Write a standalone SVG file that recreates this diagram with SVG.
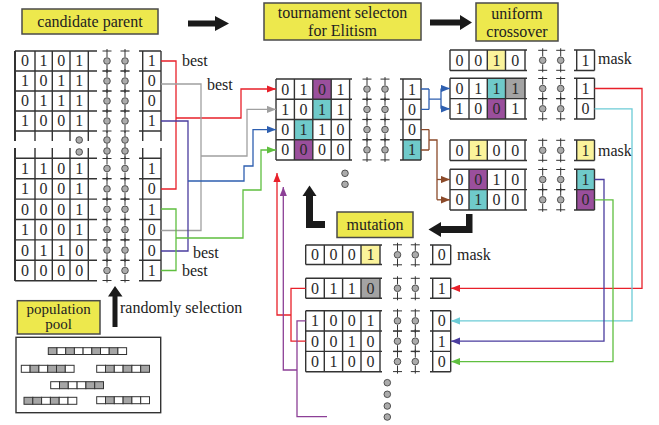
<svg xmlns="http://www.w3.org/2000/svg" xmlns:xlink="http://www.w3.org/1999/xlink" width="659" height="425" viewBox="0 0 659 425" font-family="Liberation Serif, Times New Roman, serif">
<style>
.bg{fill:#fff}
.box{fill:#ede84d;stroke:#4a4a4a;stroke-width:1.5}
.lbl{font-size:16px;fill:#222;text-anchor:middle}
.txt{font-size:16px;fill:#222}
.n{font-size:16px;fill:#2a2a2a;text-anchor:middle}
.grid{fill:none;stroke:#333;stroke-width:1.4}
.ln{fill:none;stroke:#333;stroke-width:1}
.dc{fill:#ababab;stroke:#444;stroke-width:0.9}
.pu{fill:#9a4f9c}.te{fill:#6fcaca}.ye{fill:#fbf39b}.gr{fill:#a3a3a3}
.blk{fill:#1a1a1a}
.c{fill:none;stroke-width:1.3}
.pc{stroke:#333;stroke-width:1}
</style>
<defs>
<g id="dt"><path class="ln" d="M0,-12V-4M0,4V12M-4.5,-10H4.5M-4.5,10H4.5"/><circle class="dc" r="3.3"/></g>
<marker id="mr" viewBox="0 0 10 8" refX="10" refY="4" markerWidth="9" markerHeight="7.5" markerUnits="userSpaceOnUse" orient="auto"><path d="M0,0L10,4L0,8z" fill="#e8202a"/></marker>
<marker id="mg" viewBox="0 0 10 8" refX="10" refY="4" markerWidth="9" markerHeight="7.5" markerUnits="userSpaceOnUse" orient="auto"><path d="M0,0L10,4L0,8z" fill="#a0a0a0"/></marker>
<marker id="mb" viewBox="0 0 10 8" refX="10" refY="4" markerWidth="9" markerHeight="7.5" markerUnits="userSpaceOnUse" orient="auto"><path d="M0,0L10,4L0,8z" fill="#2e5fb0"/></marker>
<marker id="mgr" viewBox="0 0 10 8" refX="10" refY="4" markerWidth="9" markerHeight="7.5" markerUnits="userSpaceOnUse" orient="auto"><path d="M0,0L10,4L0,8z" fill="#5fbf3f"/></marker>
<marker id="mbr" viewBox="0 0 10 8" refX="10" refY="4" markerWidth="9" markerHeight="7.5" markerUnits="userSpaceOnUse" orient="auto"><path d="M0,0L10,4L0,8z" fill="#8b4a2a"/></marker>
<marker id="mc" viewBox="0 0 10 8" refX="10" refY="4" markerWidth="9" markerHeight="7.5" markerUnits="userSpaceOnUse" orient="auto"><path d="M0,0L10,4L0,8z" fill="#6ccbd6"/></marker>
<marker id="mi" viewBox="0 0 10 8" refX="10" refY="4" markerWidth="9" markerHeight="7.5" markerUnits="userSpaceOnUse" orient="auto"><path d="M0,0L10,4L0,8z" fill="#4a3c9e"/></marker>
<marker id="mp" viewBox="0 0 10 8" refX="10" refY="4" markerWidth="9" markerHeight="7.5" markerUnits="userSpaceOnUse" orient="auto"><path d="M0,0L10,4L0,8z" fill="#8c3f96"/></marker>
</defs>
<rect class="bg" x="0" y="0" width="659" height="425"/>

<g id="label-candidate-parent">
<rect class="box" x="22" y="9" width="136" height="25"/>
<text class="lbl" x="90" y="26.5">candidate parent</text>
</g>
<g id="label-tournament">
<rect class="box" x="264" y="3" width="157" height="37"/>
<text class="lbl" x="342.5" y="18">tournament selecton</text>
<text class="lbl" x="342.5" y="35.5">for Elitism</text>
</g>
<g id="label-uniform">
<rect class="box" x="476" y="3" width="82" height="38"/>
<text class="lbl" x="517" y="18.5">uniform</text>
<text class="lbl" x="517" y="36.5">crossover</text>
</g>
<g id="label-mutation">
<rect class="box" x="337" y="212" width="76" height="25.5"/>
<text class="lbl" x="375" y="229.5">mutation</text>
</g>
<g id="label-population-pool">
<rect class="box" x="17.3" y="300.7" width="82.7" height="33.3"/>
<text class="lbl" x="58.7" y="314" style="font-size:15px">population</text>
<text class="lbl" x="58.7" y="329" style="font-size:15px">pool</text>
</g>

<g id="big-arrows">
<path class="blk" d="M188,20.5H215V16L229,23.5L215,31V26.5H188Z"/>
<path class="blk" d="M430,19.5H460V15L472,22.5L460,30V25.5H430Z"/>
<path class="blk" d="M306,195V228H325V221H313V195Z"/>
<path class="blk" d="M302.5,196L309.5,185.5L316.5,196Z"/>
<path class="blk" d="M466,214H472.5V233H440V226H466Z"/>
<path class="blk" d="M441,222L428.5,229.5L441,237Z"/>
<path class="blk" d="M112.5,327V296.5H108L115,286L122.5,296.5H117.5V327Z"/>
</g>

<g id="candidate-table">
<path class="grid" d="M15,51V141M15,148V280.7M35,51V141M35,148V280.7M52.3,51V141M52.3,148V280.7M70,51V141M70,148V280.7M88.3,51V141M88.3,148V280.7M142.7,51V141M142.7,148V280.7M161,51V141M161,148V280.7M15,51H97M139,51H161M15,71H97M139,71H161M15,91H97M139,91H161M15,111H97M139,111H161M15,131H97M139,131H161M15,158.3H97M139,158.3H161M15,178.7H97M139,178.7H161M15,199.1H97M139,199.1H161M15,219.5H97M139,219.5H161M15,239.9H97M139,239.9H161M15,260.3H97M139,260.3H161M15,280.7H97M139,280.7H161"/>
<path class="grid" d="M15,51V141M15,148V280.7" style="stroke-width:2"/>
<use xlink:href="#dt" x="107" y="61"/><use xlink:href="#dt" x="125" y="61"/>
<use xlink:href="#dt" x="107" y="81"/><use xlink:href="#dt" x="125" y="81"/>
<use xlink:href="#dt" x="107" y="101"/><use xlink:href="#dt" x="125" y="101"/>
<use xlink:href="#dt" x="107" y="121"/><use xlink:href="#dt" x="125" y="121"/>
<use xlink:href="#dt" x="107" y="168.5"/><use xlink:href="#dt" x="125" y="168.5"/>
<use xlink:href="#dt" x="107" y="188.9"/><use xlink:href="#dt" x="125" y="188.9"/>
<use xlink:href="#dt" x="107" y="209.3"/><use xlink:href="#dt" x="125" y="209.3"/>
<use xlink:href="#dt" x="107" y="229.7"/><use xlink:href="#dt" x="125" y="229.7"/>
<use xlink:href="#dt" x="107" y="250.1"/><use xlink:href="#dt" x="125" y="250.1"/>
<use xlink:href="#dt" x="107" y="270.5"/><use xlink:href="#dt" x="125" y="270.5"/>
<path class="ln" d="M107,131V136.5M107,143.5V147.5M107,154.5V158M125,131V136.5M125,143.5V147.5M125,154.5V158"/>
<circle class="dc" cx="107" cy="140" r="3.3"/><circle class="dc" cx="107" cy="151" r="3.3"/>
<circle class="dc" cx="125" cy="140" r="3.3"/><circle class="dc" cx="125" cy="151" r="3.3"/>
<circle class="dc" cx="79.2" cy="140" r="3.3"/><circle class="dc" cx="79.2" cy="152" r="3.3"/>
<text class="n" x="25" y="66.4">0</text><text class="n" x="43.6" y="66.4">1</text><text class="n" x="61.2" y="66.4">0</text><text class="n" x="79.2" y="66.4">1</text><text class="n" x="151.8" y="66.4">1</text>
<text class="n" x="25" y="86.4">1</text><text class="n" x="43.6" y="86.4">0</text><text class="n" x="61.2" y="86.4">1</text><text class="n" x="79.2" y="86.4">1</text><text class="n" x="151.8" y="86.4">0</text>
<text class="n" x="25" y="106.4">0</text><text class="n" x="43.6" y="106.4">1</text><text class="n" x="61.2" y="106.4">1</text><text class="n" x="79.2" y="106.4">1</text><text class="n" x="151.8" y="106.4">0</text>
<text class="n" x="25" y="126.4">1</text><text class="n" x="43.6" y="126.4">0</text><text class="n" x="61.2" y="126.4">0</text><text class="n" x="79.2" y="126.4">1</text><text class="n" x="151.8" y="126.4">1</text>
<text class="n" x="25" y="173.9">1</text><text class="n" x="43.6" y="173.9">1</text><text class="n" x="61.2" y="173.9">0</text><text class="n" x="79.2" y="173.9">1</text><text class="n" x="151.8" y="173.9">1</text>
<text class="n" x="25" y="194.3">1</text><text class="n" x="43.6" y="194.3">0</text><text class="n" x="61.2" y="194.3">0</text><text class="n" x="79.2" y="194.3">1</text><text class="n" x="151.8" y="194.3">0</text>
<text class="n" x="25" y="214.7">0</text><text class="n" x="43.6" y="214.7">0</text><text class="n" x="61.2" y="214.7">0</text><text class="n" x="79.2" y="214.7">1</text><text class="n" x="151.8" y="214.7">1</text>
<text class="n" x="25" y="235.1">1</text><text class="n" x="43.6" y="235.1">0</text><text class="n" x="61.2" y="235.1">0</text><text class="n" x="79.2" y="235.1">1</text><text class="n" x="151.8" y="235.1">0</text>
<text class="n" x="25" y="255.5">0</text><text class="n" x="43.6" y="255.5">1</text><text class="n" x="61.2" y="255.5">1</text><text class="n" x="79.2" y="255.5">0</text><text class="n" x="151.8" y="255.5">0</text>
<text class="n" x="25" y="275.9">0</text><text class="n" x="43.6" y="275.9">0</text><text class="n" x="61.2" y="275.9">0</text><text class="n" x="79.2" y="275.9">0</text><text class="n" x="151.8" y="275.9">1</text>
<text class="txt" x="182" y="65.5">best</text>
<text class="txt" x="207" y="90">best</text>
<text class="txt" x="193" y="258">best</text>
<text class="txt" x="182" y="275.5">best</text>
</g>

<g id="tournament-table">
<rect class="pu" x="312.8" y="79" width="18.4" height="20.25"/>
<rect class="te" x="312.8" y="99.25" width="18.4" height="20.25"/>
<rect class="te" x="294.4" y="119.5" width="18.4" height="20.25"/>
<rect class="pu" x="294.4" y="139.75" width="18.4" height="20.25"/>
<rect class="te" x="403" y="139.75" width="18" height="20.25"/>
<path class="grid" d="M276,79V160M294.4,79V160M312.8,79V160M331.2,79V160M349.6,79V160M403,79V160M421,79V160M276,79H352M400,79H421M276,99.25H352M400,99.25H421M276,119.5H352M400,119.5H421M276,139.75H352M400,139.75H421M276,160H352M400,160H421"/>
<use xlink:href="#dt" x="367" y="89.1"/><use xlink:href="#dt" x="385" y="89.1"/>
<use xlink:href="#dt" x="367" y="109.4"/><use xlink:href="#dt" x="385" y="109.4"/>
<use xlink:href="#dt" x="367" y="129.6"/><use xlink:href="#dt" x="385" y="129.6"/>
<use xlink:href="#dt" x="367" y="149.9"/><use xlink:href="#dt" x="385" y="149.9"/>
<text class="n" x="285.2" y="94.5">0</text><text class="n" x="303.6" y="94.5">1</text><text class="n" x="322" y="94.5">0</text><text class="n" x="340.4" y="94.5">1</text><text class="n" x="412" y="94.5">1</text>
<text class="n" x="285.2" y="114.8">1</text><text class="n" x="303.6" y="114.8">0</text><text class="n" x="322" y="114.8">1</text><text class="n" x="340.4" y="114.8">1</text><text class="n" x="412" y="114.8">0</text>
<text class="n" x="285.2" y="135">0</text><text class="n" x="303.6" y="135">1</text><text class="n" x="322" y="135">1</text><text class="n" x="340.4" y="135">0</text><text class="n" x="412" y="135">0</text>
<text class="n" x="285.2" y="155.3">0</text><text class="n" x="303.6" y="155.3">0</text><text class="n" x="322" y="155.3">0</text><text class="n" x="340.4" y="155.3">0</text><text class="n" x="412" y="155.3">1</text>
<circle class="dc" cx="345" cy="173.3" r="3.3"/><circle class="dc" cx="345" cy="184.3" r="3.3"/>
</g>

<g id="crossover-table">
<rect class="ye" x="487.3" y="50" width="18.2" height="20.5"/>
<rect class="te" x="487.3" y="78.3" width="18.2" height="20.3"/>
<rect class="gr" x="505.5" y="78.3" width="19.5" height="20.3"/>
<rect class="pu" x="487.3" y="98.6" width="18.2" height="20.4"/>
<rect class="ye" x="469" y="140" width="18.3" height="20.5"/>
<rect class="ye" x="576.7" y="140" width="17.8" height="20.5"/>
<rect class="pu" x="469" y="169.3" width="18.3" height="20.3"/>
<rect class="te" x="576.7" y="169.3" width="17.8" height="20.3"/>
<rect class="te" x="469" y="189.6" width="18.3" height="20.4"/>
<rect class="pu" x="576.7" y="189.6" width="17.8" height="20.4"/>
<path class="grid" d="M450,50V70.5M469,50V70.5M487.3,50V70.5M505.5,50V70.5M525,50V70.5M576.7,50V70.5M594.5,50V70.5M450,50H527M574,50H594.5M450,70.5H527M574,70.5H594.5"/>
<path class="grid" d="M450,78.3V119M469,78.3V119M487.3,78.3V119M505.5,78.3V119M525,78.3V119M576.7,78.3V119M594.5,78.3V119M450,78.3H527M574,78.3H594.5M450,98.6H527M574,98.6H594.5M450,119H527M574,119H594.5"/>
<path class="grid" d="M450,140V160.5M469,140V160.5M487.3,140V160.5M505.5,140V160.5M525,140V160.5M576.7,140V160.5M594.5,140V160.5M450,140H527M574,140H594.5M450,160.5H527M574,160.5H594.5"/>
<path class="grid" d="M450,169.3V210M469,169.3V210M487.3,169.3V210M505.5,169.3V210M525,169.3V210M576.7,169.3V210M594.5,169.3V210M450,169.3H527M574,169.3H594.5M450,189.6H527M574,189.6H594.5M450,210H527M574,210H594.5"/>
<use xlink:href="#dt" x="542.7" y="60.3"/><use xlink:href="#dt" x="560.7" y="60.3"/>
<use xlink:href="#dt" x="542.7" y="88.5"/><use xlink:href="#dt" x="560.7" y="88.5"/>
<use xlink:href="#dt" x="542.7" y="108.8"/><use xlink:href="#dt" x="560.7" y="108.8"/>
<use xlink:href="#dt" x="542.7" y="150.3"/><use xlink:href="#dt" x="560.7" y="150.3"/>
<use xlink:href="#dt" x="542.7" y="179.5"/><use xlink:href="#dt" x="560.7" y="179.5"/>
<use xlink:href="#dt" x="542.7" y="199.8"/><use xlink:href="#dt" x="560.7" y="199.8"/>
<text class="n" x="459.5" y="65.7">0</text><text class="n" x="478.2" y="65.7">0</text><text class="n" x="496.4" y="65.7">1</text><text class="n" x="515.3" y="65.7">0</text><text class="n" x="585.6" y="65.7">1</text>
<text class="n" x="459.5" y="93.9">0</text><text class="n" x="478.2" y="93.9">1</text><text class="n" x="496.4" y="93.9">1</text><text class="n" x="515.3" y="93.9">1</text><text class="n" x="585.6" y="93.9">1</text>
<text class="n" x="459.5" y="114.2">1</text><text class="n" x="478.2" y="114.2">0</text><text class="n" x="496.4" y="114.2">0</text><text class="n" x="515.3" y="114.2">1</text><text class="n" x="585.6" y="114.2">0</text>
<text class="n" x="459.5" y="155.7">0</text><text class="n" x="478.2" y="155.7">1</text><text class="n" x="496.4" y="155.7">0</text><text class="n" x="515.3" y="155.7">0</text><text class="n" x="585.6" y="155.7">1</text>
<text class="n" x="459.5" y="184.9">0</text><text class="n" x="478.2" y="184.9">0</text><text class="n" x="496.4" y="184.9">1</text><text class="n" x="515.3" y="184.9">0</text><text class="n" x="585.6" y="184.9">1</text>
<text class="n" x="459.5" y="205.2">0</text><text class="n" x="478.2" y="205.2">1</text><text class="n" x="496.4" y="205.2">0</text><text class="n" x="515.3" y="205.2">0</text><text class="n" x="585.6" y="205.2">0</text>
<text class="txt" x="598" y="64">mask</text>
<text class="txt" x="598" y="155.5">mask</text>
</g>

<g id="mutation-table">
<rect class="ye" x="361" y="245" width="19" height="19.5"/>
<rect class="gr" x="361" y="278.3" width="19" height="20"/>
<path class="grid" d="M305.7,245V264.5M324.3,245V264.5M342.6,245V264.5M361,245V264.5M380,245V264.5M432.7,245V264.5M450.7,245V264.5M305.7,245H382M430,245H450.7M305.7,264.5H382M430,264.5H450.7"/>
<path class="grid" d="M305.7,278.3V298.3M324.3,278.3V298.3M342.6,278.3V298.3M361,278.3V298.3M380,278.3V298.3M432.7,278.3V298.3M450.7,278.3V298.3M305.7,278.3H382M430,278.3H450.7M305.7,298.3H382M430,298.3H450.7"/>
<path class="grid" d="M305.7,310.7V371.7M324.3,310.7V371.7M342.6,310.7V371.7M361,310.7V371.7M380,310.7V371.7M432.7,310.7V371.7M450.7,310.7V371.7M305.7,310.7H382M430,310.7H450.7M305.7,331H382M430,331H450.7M305.7,351.4H382M430,351.4H450.7M305.7,371.7H382M430,371.7H450.7"/>
<use xlink:href="#dt" x="397.5" y="254.8"/><use xlink:href="#dt" x="415.3" y="254.8"/>
<use xlink:href="#dt" x="397.5" y="288.3"/><use xlink:href="#dt" x="415.3" y="288.3"/>
<use xlink:href="#dt" x="397.5" y="320.9"/><use xlink:href="#dt" x="415.3" y="320.9"/>
<use xlink:href="#dt" x="397.5" y="341.2"/><use xlink:href="#dt" x="415.3" y="341.2"/>
<use xlink:href="#dt" x="397.5" y="361.6"/><use xlink:href="#dt" x="415.3" y="361.6"/>
<text class="n" x="315" y="260.2">0</text><text class="n" x="333.5" y="260.2">0</text><text class="n" x="351.8" y="260.2">0</text><text class="n" x="370.5" y="260.2">1</text><text class="n" x="441.7" y="260.2">0</text>
<text class="n" x="315" y="293.7">0</text><text class="n" x="333.5" y="293.7">1</text><text class="n" x="351.8" y="293.7">1</text><text class="n" x="370.5" y="293.7">0</text><text class="n" x="441.7" y="293.7">1</text>
<text class="n" x="315" y="326.3">1</text><text class="n" x="333.5" y="326.3">0</text><text class="n" x="351.8" y="326.3">0</text><text class="n" x="370.5" y="326.3">1</text><text class="n" x="441.7" y="326.3">0</text>
<text class="n" x="315" y="346.6">0</text><text class="n" x="333.5" y="346.6">0</text><text class="n" x="351.8" y="346.6">1</text><text class="n" x="370.5" y="346.6">0</text><text class="n" x="441.7" y="346.6">1</text>
<text class="n" x="315" y="367">0</text><text class="n" x="333.5" y="367">1</text><text class="n" x="351.8" y="367">0</text><text class="n" x="370.5" y="367">0</text><text class="n" x="441.7" y="367">0</text>
<text class="txt" x="457" y="260">mask</text>
<circle class="dc" cx="387.3" cy="382.7" r="3.3"/><circle class="dc" cx="387.3" cy="394.3" r="3.3"/><circle class="dc" cx="387.3" cy="406" r="3.3"/><circle class="dc" cx="387.3" cy="417" r="3.3"/>
</g>

<g id="population-pool">
<rect x="16" y="337.3" width="144.7" height="75.4" fill="#fff" stroke="#333" stroke-width="1.4"/>
<g class="pc">
<rect x="48.3" y="347.7" width="8.7" height="6.8" fill="#a6a6a6"/><rect x="57" y="347.7" width="8.7" height="6.8" fill="#fff"/><rect x="65.7" y="347.7" width="8.7" height="6.8" fill="#a6a6a6"/><rect x="74.4" y="347.7" width="8.7" height="6.8" fill="#fff"/><rect x="83.1" y="347.7" width="8.7" height="6.8" fill="#fff"/><rect x="91.8" y="347.7" width="8.7" height="6.8" fill="#a6a6a6"/><rect x="100.5" y="347.7" width="8.7" height="6.8" fill="#fff"/><rect x="109.2" y="347.7" width="8.7" height="6.8" fill="#a6a6a6"/><rect x="117.9" y="347.7" width="8.7" height="6.8" fill="#fff"/>
<rect x="21.3" y="365.3" width="8.8" height="7" fill="#fff"/><rect x="30.1" y="365.3" width="8.8" height="7" fill="#a6a6a6"/><rect x="38.9" y="365.3" width="8.8" height="7" fill="#fff"/><rect x="47.7" y="365.3" width="8.8" height="7" fill="#a6a6a6"/><rect x="56.5" y="365.3" width="8.8" height="7" fill="#a6a6a6"/><rect x="65.3" y="365.3" width="8.8" height="7" fill="#fff"/>
<rect x="96.7" y="365.3" width="8.8" height="7" fill="#fff"/><rect x="105.5" y="365.3" width="8.8" height="7" fill="#a6a6a6"/><rect x="114.3" y="365.3" width="8.8" height="7" fill="#fff"/><rect x="123.1" y="365.3" width="8.8" height="7" fill="#a6a6a6"/><rect x="131.9" y="365.3" width="8.8" height="7" fill="#fff"/><rect x="140.7" y="365.3" width="8.8" height="7" fill="#a6a6a6"/>
<rect x="50.7" y="381.7" width="8.8" height="7" fill="#fff"/><rect x="59.5" y="381.7" width="8.8" height="7" fill="#a6a6a6"/><rect x="68.3" y="381.7" width="8.8" height="7" fill="#fff"/><rect x="77.1" y="381.7" width="8.8" height="7" fill="#fff"/><rect x="85.9" y="381.7" width="8.8" height="7" fill="#a6a6a6"/><rect x="94.7" y="381.7" width="8.8" height="7" fill="#a6a6a6"/>
<rect x="24" y="397.3" width="8.8" height="7" fill="#a6a6a6"/><rect x="32.8" y="397.3" width="8.8" height="7" fill="#a6a6a6"/><rect x="41.6" y="397.3" width="8.8" height="7" fill="#fff"/><rect x="50.4" y="397.3" width="8.8" height="7" fill="#a6a6a6"/><rect x="59.2" y="397.3" width="8.8" height="7" fill="#fff"/><rect x="68" y="397.3" width="8.8" height="7" fill="#fff"/>
<rect x="96.7" y="396.7" width="8.8" height="7" fill="#fff"/><rect x="105.5" y="396.7" width="8.8" height="7" fill="#a6a6a6"/><rect x="114.3" y="396.7" width="8.8" height="7" fill="#fff"/><rect x="123.1" y="396.7" width="8.8" height="7" fill="#a6a6a6"/><rect x="131.9" y="396.7" width="8.8" height="7" fill="#fff"/><rect x="140.7" y="396.7" width="8.8" height="7" fill="#fff"/>
</g>
<text class="txt" x="120" y="313">randomly selection</text>
</g>

<g id="connectors">
<path class="c" stroke="#e8202a" d="M161,61H176V189H161"/>
<path class="c" stroke="#e8202a" d="M176,118H241V89H276" marker-end="url(#mr)"/>
<path class="c" stroke="#a0a0a0" d="M161,84H201V230.5H161"/>
<path class="c" stroke="#a0a0a0" d="M201,156H247V109.4H276" marker-end="url(#mg)"/>
<path class="c" stroke="#4a3c9e" d="M161,121H188V251H161"/>
<path class="c" stroke="#2e5fb0" d="M188,181H244V166H253V129.6H276" marker-end="url(#mb)"/>
<path class="c" stroke="#5fbf3f" d="M161,209H176V270.5H161"/>
<path class="c" stroke="#5fbf3f" d="M176,238H243V190H261V150H276" marker-end="url(#mgr)"/>
<path class="c" stroke="#2e5fb0" d="M421,89H429M421,109.4H429M429,89V109.4M429,99.2H441M441,88.5V108.8"/>
<path class="c" stroke="#2e5fb0" d="M441,88.5H450" marker-end="url(#mb)"/>
<path class="c" stroke="#2e5fb0" d="M441,108.8H450" marker-end="url(#mb)"/>
<path class="c" stroke="#8b4a2a" d="M421,129.6H429M421,150H429M429,129.6V150M429,140H437V199.8"/>
<path class="c" stroke="#8b4a2a" d="M437,179.5H450" marker-end="url(#mbr)"/>
<path class="c" stroke="#8b4a2a" d="M437,199.8H450" marker-end="url(#mbr)"/>
<path class="c" stroke="#e8202a" d="M594.5,88.5H642V288.3H451" marker-end="url(#mr)"/>
<path class="c" stroke="#6ccbd6" d="M594.5,108.8H632V320.9H451" marker-end="url(#mc)"/>
<path class="c" stroke="#4a3c9e" d="M594.5,179.5H604V341.2H451" marker-end="url(#mi)"/>
<path class="c" stroke="#5fbf3f" d="M594.5,199.8H613V361.6H451" marker-end="url(#mgr)"/>
<path class="c" stroke="#e8202a" d="M305.7,288.3H291V341.2H305.7"/>
<path class="c" stroke="#e8202a" d="M291,315H277V173" marker-end="url(#mr)"/>
<path class="c" stroke="#8c3f96" d="M305.7,320.9H297V416.7H327"/>
<path class="c" stroke="#8c3f96" d="M297,370H283.3V187" marker-end="url(#mp)"/>
</g>
</svg>
